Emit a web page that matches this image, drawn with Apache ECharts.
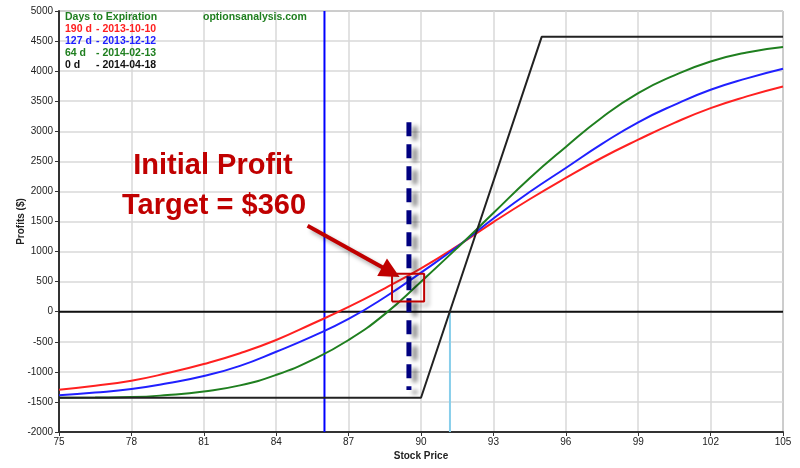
<!DOCTYPE html>
<html><head><meta charset="utf-8">
<script src="https://cdn.jsdelivr.net/npm/echarts@6/dist/echarts.min.js"></script>
<style>html,body{margin:0;padding:0;background:#fff}#c{width:800px;height:468px}</style>
</head><body><div id="c"></div>
<script>
// Data
const prices   = [75, 76.5, 78, 79.5, 81, 82.5, 84, 85.5, 87, 88.5, 90, 91.5, 93, 94.5, 96, 97.5, 99, 100.5, 102, 103.5, 105];
const d190     = [-1297, -1230, -1147, -1020, -870, -690, -470, -200, 80, 390, 720, 1090, 1490, 1870, 2225, 2560, 2860, 3140, 3385, 3580, 3745];
const d127     = [-1390, -1345, -1285, -1190, -1070, -900, -665, -410, -120, 240, 650, 1080, 1550, 1990, 2390, 2790, 3150, 3440, 3690, 3880, 4040];
const d64      = [-1432, -1428, -1420, -1385, -1325, -1225, -1050, -800, -470, -40, 500, 1060, 1640, 2220, 2740, 3230, 3635, 3930, 4160, 4310, 4400];
const expPrices = [75, 90, 95, 105];
const d0        = [-1430, -1430, 4570, 4570];
const currentPrice = 86;
const breakEven = 91.2;
const targetPrice = 89.5;
const targetRange = [3150, -1300];
const boxX = [88.8, 90.13];
const boxY = [170, 632];
const arrowFrom = [85.3, 1430];
const arrowTo = [88.75, 660];
const legendTitle = 'Days to Expiration';
const legendDays  = ['190 d', '127 d', '64 d', '0 d'];
const legendDates = ['- 2013-10-10', '- 2013-12-12', '- 2014-02-13', '- 2014-04-18'];
const legendColors = ['#ff2020', '#2020ff', '#1f7f1f', '#111111'];
const siteText = 'optionsanalysis.com';
const noteLines = ['Initial Profit', 'Target = $360'];
const xTicks = {min: 75, max: 105, interval: 3};
const yTicks = {min: -2000, max: 5000, interval: 500};

const zip = (xs, ys) => xs.map((x, i) => [x, ys[i]]);
const font = "'Liberation Sans', Arial, sans-serif";
const chart = echarts.init(document.getElementById('c'), null, {renderer: 'canvas'});

const lgFont = 'bold 10.5px ' + font;
const graphics = [
  {type: 'text', x: 65, y: 17, z: 100, style: {text: legendTitle, fill: '#1f7f1f', font: lgFont, textVerticalAlign: 'middle'}},
  {type: 'text', x: 203, y: 17, z: 100, style: {text: siteText, fill: '#1f7f1f', font: lgFont, textVerticalAlign: 'middle'}}
];
legendDays.forEach((d, i) => {
  graphics.push({type: 'text', x: 65, y: 29 + i * 12, z: 100, style: {text: d, fill: legendColors[i], font: lgFont, textVerticalAlign: 'middle'}});
  graphics.push({type: 'text', x: 96, y: 29 + i * 12, z: 100, style: {text: legendDates[i], fill: legendColors[i], font: lgFont, textVerticalAlign: 'middle'}});
});
graphics.push({type: 'text', x: 213, y: 166, z: 100, style: {text: noteLines[0], fill: '#c00000', font: 'bold 29px ' + font, textAlign: 'center', textVerticalAlign: 'middle'}});
graphics.push({type: 'text', x: 214, y: 206, z: 100, style: {text: noteLines[1], fill: '#c00000', font: 'bold 29px ' + font, textAlign: 'center', textVerticalAlign: 'middle'}});

chart.setOption({
  animation: false,
  backgroundColor: '#fff',
  grid: {left: 59, right: 17, top: 11, bottom: 36, show: true, borderColor: '#555', borderWidth: 1},
  xAxis: {
    type: 'value', min: xTicks.min, max: xTicks.max, interval: xTicks.interval,
    name: 'Stock Price', nameLocation: 'middle', nameGap: 19, nameMoveOverlap: false,
    nameTextStyle: {fontFamily: font, fontWeight: 'bold', fontSize: 10, color: '#222'},
    axisLine: {onZero: false, lineStyle: {color: '#333', width: 2}},
    axisTick: {show: true, length: 4, lineStyle: {color: '#333'}},
    axisLabel: {fontFamily: font, fontSize: 10, color: '#222', margin: 5},
    splitLine: {show: true, lineStyle: {color: '#d8d8d8', width: 1.5}}
  },
  yAxis: {
    type: 'value', min: yTicks.min, max: yTicks.max, interval: yTicks.interval,
    name: 'Profits ($)', nameLocation: 'middle', nameGap: 33, nameRotate: 90, nameMoveOverlap: false,
    nameTextStyle: {fontFamily: font, fontWeight: 'bold', fontSize: 10, color: '#222'},
    axisLine: {show: true, lineStyle: {color: '#333', width: 2}},
    axisTick: {show: true, length: 4, lineStyle: {color: '#333'}},
    axisLabel: {fontFamily: font, fontSize: 10, color: '#222', margin: 6, formatter: v => String(v)},
    splitLine: {show: true, lineStyle: {color: '#d8d8d8', width: 1.5}}
  },
  graphic: graphics,
  series: [
    {type: 'line', data: [[breakEven, 0], [breakEven, yTicks.min]], symbol: 'none', lineStyle: {color: '#87ceeb', width: 2}, z: 2},
    {type: 'line', data: [[currentPrice, yTicks.min], [currentPrice, yTicks.max]], symbol: 'none', lineStyle: {color: '#0000ff', width: 2}, z: 2},
    {type: 'line', data: [[xTicks.min, 0], [xTicks.max, 0]], symbol: 'none', lineStyle: {color: '#111', width: 2}, z: 2},
    {type: 'line', name: '190 d', data: zip(prices, d190), smooth: true, symbol: 'none', lineStyle: {color: '#ff2020', width: 2}, z: 3},
    {type: 'line', name: '127 d', data: zip(prices, d127), smooth: true, symbol: 'none', lineStyle: {color: '#2020ff', width: 2}, z: 3},
    {type: 'line', name: '64 d', data: zip(prices, d64), smooth: true, symbol: 'none', lineStyle: {color: '#1f7f1f', width: 2}, z: 3},
    {type: 'line', name: '0 d', data: zip(expPrices, d0), symbol: 'none', lineStyle: {color: '#222', width: 2}, z: 4},
    {type: 'line', data: [[targetPrice, targetRange[0]], [targetPrice, targetRange[1]]], symbol: 'none',
      lineStyle: {color: '#000080', width: 5, type: [14, 8], shadowColor: 'rgba(0,0,0,0.45)', shadowBlur: 4, shadowOffsetX: 6, shadowOffsetY: 4}, z: 5},
    {type: 'line', data: [[boxX[0], boxY[0]], [boxX[1], boxY[0]], [boxX[1], boxY[1]], [boxX[0], boxY[1]], [boxX[0], boxY[0]]], symbol: 'none',
      lineStyle: {color: '#c00000', width: 2, shadowColor: 'rgba(0,0,0,0.3)', shadowBlur: 4, shadowOffsetX: 4, shadowOffsetY: 4}, z: 6},
    {type: 'line', data: [], symbol: 'none', z: 7,
      markLine: {silent: true, symbol: ['none', 'triangle'], symbolSize: 20,
        lineStyle: {color: '#c00000', width: 4, type: 'solid', shadowColor: 'rgba(0,0,0,0.35)', shadowBlur: 4, shadowOffsetX: 4, shadowOffsetY: 4},
        itemStyle: {color: '#c00000'},
        label: {show: false}, emphasis: {disabled: true},
        data: [[{coord: arrowFrom}, {coord: arrowTo}]]}}
  ]
});
</script>
</body></html>
